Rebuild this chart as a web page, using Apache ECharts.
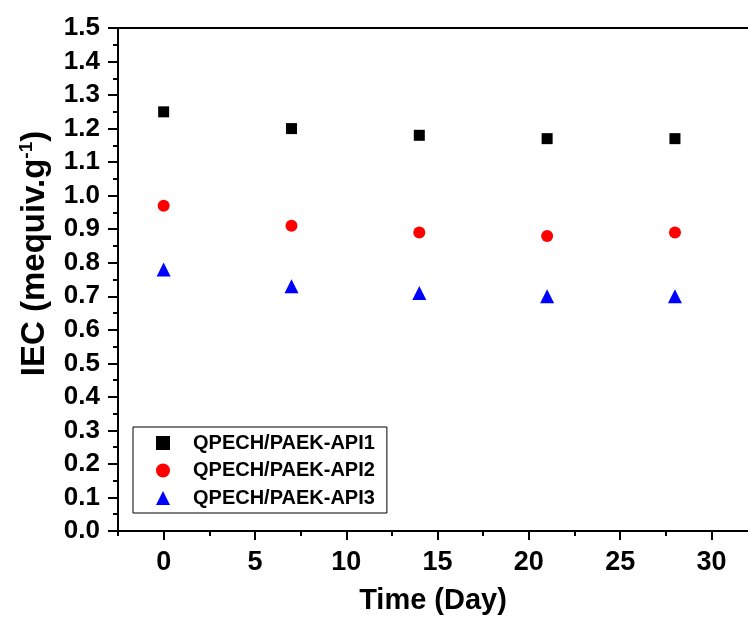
<!DOCTYPE html>
<html lang="en">
<head>
    <meta charset="UTF-8">
    <title>IEC vs Time</title>
    <script src="https://cdn.jsdelivr.net/npm/echarts@6/dist/echarts.min.js"></script>
    <style>
        body { margin: 0; background: #fff; }
    </style>
</head>
<body>
    <div id="main" style="width:748px;height:621px;"></div>

    <script>
        // 数据
        const days = [0, 7, 14, 21, 28];
        const api1 = [1.25, 1.20, 1.18, 1.17, 1.17];
        const api2 = [0.97, 0.91, 0.89, 0.88, 0.89];
        const api3 = [0.78, 0.73, 0.71, 0.70, 0.70];
        const seriesNames = ['QPECH/PAEK-API1', 'QPECH/PAEK-API2', 'QPECH/PAEK-API3'];
        const xMajorTicks = [0, 5, 10, 15, 20, 25, 30];
        const xMinorTicks = [-2.5, 2.5, 7.5, 12.5, 17.5, 22.5, 27.5];

        const font = '"Liberation Sans", Arial, sans-serif';

        const pair = function (xs, ys) {
            return xs.map(function (x, i) { return [x, ys[i]]; });
        };

        const option = {
            animation: false,
            backgroundColor: '#fff',
            textStyle: { fontFamily: font },
            grid: { left: 118, right: 0, top: 28, bottom: 90 },
            legend: {
                orient: 'vertical',
                left: 133,
                top: 427,
                padding: [6, 12, 5, 23],
                itemWidth: 14,
                itemHeight: 14,
                itemGap: 7.5,
                borderColor: '#000',
                borderWidth: 1,
                textStyle: { fontFamily: font, fontSize: 20, fontWeight: 'bold', color: '#000', lineHeight: 20, padding: [0, 0, 0, 18] },
                data: seriesNames
            },
            xAxis: [
                {
                    type: 'value',
                    min: -2.5,
                    max: 32,
                    position: 'bottom',
                    name: 'Time (Day)',
                    nameLocation: 'middle',
                    nameGap: 55,
                    nameTextStyle: { fontFamily: font, fontSize: 29, fontWeight: 'bold', color: '#000' },
                    axisLine: { onZero: false, lineStyle: { color: '#000', width: 2 } },
                    axisTick: { length: 9, lineStyle: { color: '#000', width: 2 }, customValues: xMajorTicks },
                    axisLabel: { fontFamily: font, fontSize: 27, fontWeight: 'bold', color: '#000', margin: 18, customValues: xMajorTicks },
                    splitLine: { show: false }
                },
                {
                    type: 'value',
                    min: -2.5,
                    max: 32,
                    position: 'bottom',
                    axisLine: { show: false, onZero: false },
                    axisTick: { length: 5, lineStyle: { color: '#000', width: 2 }, customValues: xMinorTicks },
                    axisLabel: { show: false },
                    splitLine: { show: false }
                },
                {
                    type: 'value',
                    min: -2.5,
                    max: 32,
                    position: 'top',
                    axisLine: { onZero: false, lineStyle: { color: '#000', width: 2 } },
                    axisTick: { show: false },
                    axisLabel: { show: false },
                    splitLine: { show: false }
                }
            ],
            yAxis: {
                type: 'value',
                min: 0,
                max: 1.5,
                interval: 0.1,
                name: '{a|IEC (mequiv.g}{s|-1}{a|)}',
                nameLocation: 'middle',
                nameGap: 66,
                nameTextStyle: {
                    padding: [0, 0, 0, 52],
                    rich: {
                        a: { fontFamily: font, fontSize: 33, fontWeight: 'bold', color: '#000' },
                        s: { fontFamily: font, fontSize: 19, fontWeight: 'bold', color: '#000', verticalAlign: 'top', padding: [0, 0, 16, 0] }
                    }
                },
                axisLine: { onZero: false, lineStyle: { color: '#000', width: 2 } },
                axisTick: { length: 10, lineStyle: { color: '#000', width: 2 } },
                minorTick: { show: true, splitNumber: 2, length: 5, lineStyle: { color: '#000', width: 2 } },
                axisLabel: {
                    fontFamily: font, fontSize: 26, fontWeight: 'bold', color: '#000', margin: 18,
                    formatter: function (v) { return v.toFixed(1); }
                },
                splitLine: { show: false }
            },
            series: [
                {
                    name: seriesNames[0],
                    type: 'scatter',
                    symbol: 'rect',
                    symbolSize: 11,
                    itemStyle: { color: '#000', opacity: 1 },
                    data: pair(days, api1)
                },
                {
                    name: seriesNames[1],
                    type: 'scatter',
                    symbol: 'circle',
                    symbolSize: 12,
                    itemStyle: { color: '#ff0000', opacity: 1 },
                    data: pair(days, api2)
                },
                {
                    name: seriesNames[2],
                    type: 'scatter',
                    symbol: 'triangle',
                    symbolSize: 14,
                    itemStyle: { color: '#0000ff', opacity: 1 },
                    data: pair(days, api3)
                }
            ]
        };

        var myChart = echarts.init(document.getElementById('main'));
        myChart.setOption(option);
    </script>
</body>
</html>
